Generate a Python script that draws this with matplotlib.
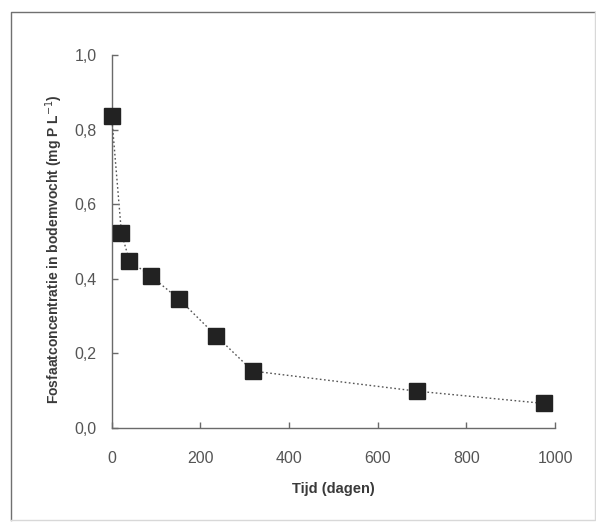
import matplotlib
matplotlib.use("Agg")
import matplotlib.pyplot as plt
from matplotlib.ticker import FuncFormatter

plt.rcParams["font.family"] = ["Liberation Sans", "DejaVu Sans"]

# Gemeten fosfaatconcentraties
tijd_dagen = [0, 22, 40, 88, 151, 236, 318, 689, 976]
fosfaat = [0.835, 0.522, 0.448, 0.407, 0.346, 0.246, 0.152, 0.098, 0.065]

x_ticks = [0, 200, 400, 600, 800, 1000]
y_ticks = [0.0, 0.2, 0.4, 0.6, 0.8, 1.0]

GRIJS = "#6a6a6a"
TEKST = "#555555"
SMAL = ["Liberation Sans Narrow", "Liberation Sans", "DejaVu Sans"]

fig = plt.figure(figsize=(5.96, 5.25), dpi=100)
ax = fig.add_axes([0.1874, 0.1853, 0.744, 0.710])

# kader rond de figuur: links/boven donkerder dan rechts/onder
fig.add_artist(plt.Line2D([11 / 596, 11 / 596, 595 / 596], [1 - 520 / 525, 1 - 12 / 525, 1 - 12 / 525],
                          transform=fig.transFigure, color="#707070", linewidth=1.0))
fig.add_artist(plt.Line2D([11 / 596, 595 / 596, 595 / 596], [1 - 520 / 525, 1 - 520 / 525, 1 - 12 / 525],
                          transform=fig.transFigure, color="#d8d8d8", linewidth=1.0))

ax.plot(tijd_dagen, fosfaat, linestyle=(0, (1.2, 1.8)), color="#555555", linewidth=1.0,
        marker="s", markersize=11, markerfacecolor="#222222", markeredgecolor="#222222",
        clip_on=False, zorder=3)

ax.set_xlim(0, 1000)
ax.set_ylim(0, 1.0)
ax.set_xticks(x_ticks)
ax.set_yticks(y_ticks)
ax.yaxis.set_major_formatter(FuncFormatter(lambda v, p: f"{v:.1f}".replace(".", ",")))

for side in ("top", "right"):
    ax.spines[side].set_visible(False)
for side in ("left", "bottom"):
    ax.spines[side].set_color(GRIJS)
    ax.spines[side].set_linewidth(1.0)

ax.tick_params(axis="both", direction="in", length=4, width=1.0, color=GRIJS,
               labelsize=11.5, labelcolor=TEKST)
ax.tick_params(axis="x", pad=17)
ax.tick_params(axis="y", pad=11)

ax.set_xlabel("Tijd (dagen)", fontsize=10.5, fontweight="bold", color="#3a3a3a", labelpad=11,
              family=SMAL)
ax.set_ylabel("Fosfaatconcentratie in bodemvocht (mg P L$^{-1}$)", fontsize=10,
              fontweight="bold", color="#3a3a3a", family=SMAL)
ax.yaxis.set_label_coords(-0.105, 0.48)

fig.savefig("out.png", dpi=100, facecolor="white")
